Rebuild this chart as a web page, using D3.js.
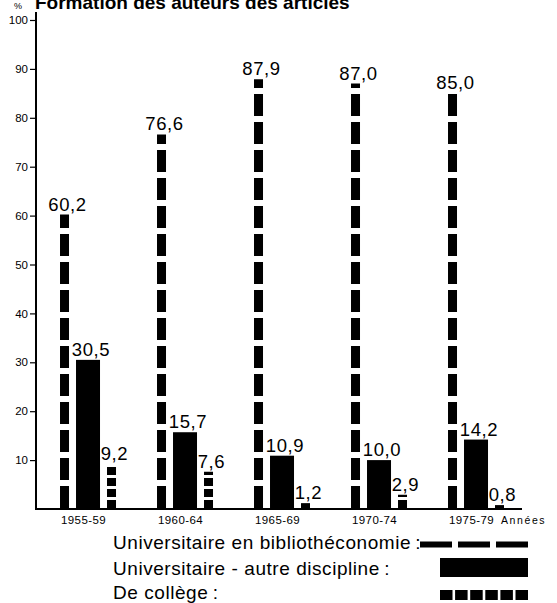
<!DOCTYPE html>
<html><head><meta charset="utf-8">
<script src="https://cdn.jsdelivr.net/npm/d3@7"></script>
<style>
html,body{margin:0;padding:0;background:#fff;}
svg{display:block;font-family:"Liberation Sans",Arial,Helvetica,sans-serif;}
</style></head>
<body>
<svg id="chart" width="557" height="603"></svg>
<script>
// ---- data ----
const periods = ["1955-59", "1960-64", "1965-69", "1970-74", "1975-79"];
const bibliotheconomie = [60.2, 76.6, 87.9, 87.0, 85.0];
const autreDiscipline = [30.5, 15.7, 10.9, 10.0, 14.2];
const college = [9.2, 7.6, 1.2, 2.9, 0.8];
const seriesKeys = ["bib", "autre", "college"];
const seriesLabels = ["Universitaire en bibliothéconomie\u2009:", "Universitaire - autre discipline\u2009:", "De collège\u2009:"];
const yTicks = [10, 20, 30, 40, 50, 60, 70, 80, 90, 100];
const titleText = "Formation des auteurs des articles";
const unitText = "%";
const xAxisTitle = "Années";

// ---- setup ----
const svg = d3.select("#chart");
const fr = d3.formatLocale({decimal: ",", thousands: " ", grouping: [3], currency: ["", ""]});
const fmt = fr.format(".1f");

const y = d3.scaleLinear().domain([0, 100]).range([509, 20]);
const x0 = d3.scaleBand().domain(periods).range([39.5, 524.5]).paddingInner(0.423).paddingOuter(0.2115);
const x1 = d3.scalePoint().domain(seriesKeys).range([4.5, 51.5]);
const widths = {bib: 9, autre: 24, college: 9};
const dashes = {bib: "22,6", autre: null, college: "8,3"};

const valuesBy = {bib: bibliotheconomie, autre: autreDiscipline, college: college};
const rows = [];
periods.forEach((p, i) => seriesKeys.forEach(k => rows.push({p, k, v: valuesBy[k][i]})));

// title
svg.append("text").attr("x", 14).attr("y", 9).attr("font-size", 9).text(unitText);
svg.append("text").attr("x", 35).attr("y", 9).attr("font-size", 19).attr("font-weight", "bold").text(titleText);

// y axis
const yAxis = svg.append("g").attr("transform", "translate(36,0)")
  .call(d3.axisLeft(y).tickValues(yTicks).tickSize(6).tickPadding(2).tickFormat(d3.format("d")));
yAxis.select(".domain").remove();
yAxis.selectAll(".tick line").attr("stroke", "#000").attr("stroke-width", 1.2);
yAxis.selectAll(".tick text").attr("font-size", 11.5).attr("fill", "#000").attr("font-family", "Liberation Sans, Arial, sans-serif");
svg.append("line").attr("x1", 36).attr("x2", 36).attr("y1", 12).attr("y2", y(0) + 1)
  .attr("stroke", "#000").attr("stroke-width", 2);
svg.append("line").attr("x1", 35).attr("x2", 522).attr("y1", y(0)).attr("y2", y(0))
  .attr("stroke", "#000").attr("stroke-width", 2);

// bars
const bars = svg.append("g");
rows.forEach(r => {
  const cx = x0(r.p) + x1(r.k);
  const w = widths[r.k];
  if (r.k === "autre") {
    bars.append("rect").attr("x", cx - w / 2).attr("width", w)
      .attr("y", y(r.v)).attr("height", y(0) - y(r.v)).attr("fill", "#000");
  } else {
    bars.append("line").attr("x1", cx).attr("x2", cx)
      .attr("y1", y(0) - 1).attr("y2", y(r.v))
      .attr("stroke", "#000").attr("stroke-width", w)
      .attr("stroke-dasharray", dashes[r.k]);
  }
  bars.append("text").attr("x", cx + 3).attr("y", y(r.v) - 4)
    .attr("text-anchor", "middle").attr("font-size", 18.5).attr("letter-spacing", 0.6)
    .text(fmt(r.v).replace(/ /g, ""));
});

// x labels
const xl = svg.append("g");
periods.forEach(p => {
  xl.append("text").attr("x", x0(p) + x0.bandwidth() * 0.42).attr("y", 524)
    .attr("text-anchor", "middle").attr("font-size", 11.5).attr("letter-spacing", 0.4).text(p);
});
svg.append("text").attr("x", 501).attr("y", 524).attr("font-size", 10.5).attr("letter-spacing", 1.6).text(xAxisTitle);

// legend
const lg = svg.append("g");
const rowY = [549, 574.5, 599];
seriesLabels.forEach((t, i) => {
  lg.append("text").attr("x", 113).attr("y", rowY[i]).attr("font-size", 19).attr("letter-spacing", 0.55).text(t);
});
// swatch 1: horizontal dashes
lg.append("line").attr("x1", 420).attr("x2", 528).attr("y1", 544.5).attr("y2", 544.5)
  .attr("stroke", "#000").attr("stroke-width", 6).attr("stroke-dasharray", "32,6");
// swatch 2: solid block
lg.append("rect").attr("x", 440).attr("y", 558).attr("width", 88).attr("height", 19).attr("fill", "#000");
// swatch 3: squares
lg.append("line").attr("x1", 440).attr("x2", 528).attr("y1", 595).attr("y2", 595)
  .attr("stroke", "#000").attr("stroke-width", 10).attr("stroke-dasharray", "12.5,2.6");
</script>
</body></html>
